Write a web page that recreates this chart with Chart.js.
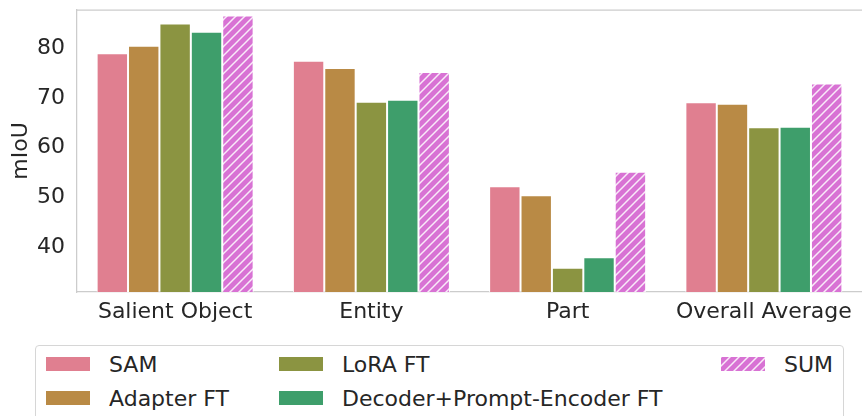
<!DOCTYPE html>
<html>
<head>
<meta charset="utf-8">
<script src="https://cdn.jsdelivr.net/npm/chart.js@4/dist/chart.umd.min.js"></script>
<style>
  html, body { margin: 0; padding: 0; background: #ffffff; }
  #wrap { position: relative; width: 862px; height: 416px; overflow: hidden; background: #fff; }
  #c { position: absolute; left: 0; top: 0; }
  #legend {
    position: absolute; left: 35px; top: 345px; width: 807px; height: 100px;
    border: 1px solid #d6d6d6; border-radius: 4px; background: #fff;
    font-family: "DejaVu Sans", sans-serif; font-size: 22px; color: #262626;
  }
  .item { position: absolute; display: flex; align-items: center; height: 30px; white-space: nowrap; }
  .sw { width: 44px; height: 14px; margin-right: 19px; background-repeat: repeat; }
</style>
</head>
<body>
<div id="wrap">
  <canvas id="c" width="862" height="416"></canvas>
  <div id="legend"></div>
</div>
<script>
// ---- data ----
const categories = ['Salient Object', 'Entity', 'Part', 'Overall Average'];
const seriesNames = ['SAM', 'Adapter FT', 'LoRA FT', 'Decoder+Prompt-Encoder FT', 'SUM'];
const samScores = [79.0, 77.5, 52.2, 69.1];
const adapterScores = [80.5, 76.0, 50.4, 68.8];
const loraScores = [85.0, 69.2, 35.8, 64.1];
const decoderScores = [83.3, 69.6, 37.9, 64.2];
const sumScores = [86.6, 75.2, 55.1, 72.9];
const yTicks = [40, 50, 60, 70, 80];
const yMin = 30.9;
const yMax = 87.7;

// ---- styles ----
const colors = ['#e07f90', '#b98a45', '#8b9441', '#3e9e6b', '#d872d4'];
const textColor = '#262626';
const fontFamily = "'DejaVu Sans', sans-serif";

function makeHatch(base, line, s) {
  const c = document.createElement('canvas');
  c.width = s; c.height = s;
  const x = c.getContext('2d');
  x.fillStyle = base; x.fillRect(0, 0, s, s);
  x.strokeStyle = line; x.lineWidth = 1.5;
  x.beginPath();
  x.moveTo(-1, s + 1); x.lineTo(s + 1, -1);
  x.moveTo(-1, 1); x.lineTo(1, -1);
  x.moveTo(s - 1, s + 1); x.lineTo(s + 1, s - 1);
  x.stroke();
  return c;
}
const hatchCanvas = makeHatch(colors[4], 'rgba(255,255,255,0.85)', 9);
const ctx = document.getElementById('c').getContext('2d');
const hatchPattern = ctx.createPattern(hatchCanvas, 'repeat');

const seriesValues = [samScores, adapterScores, loraScores, decoderScores, sumScores];
const datasets = seriesNames.map((name, i) => ({
  label: name,
  data: seriesValues[i],
  backgroundColor: i === 4 ? hatchPattern : colors[i],
  swatch: i === 4 ? 'url(' + hatchCanvas.toDataURL() + ')' : colors[i],
  borderColor: '#ffffff',
  borderWidth: 1,
  categoryPercentage: 0.8,
  barPercentage: 1.0
}));

const topLine = {
  id: 'topLine',
  afterDraw(chart) {
    const a = chart.chartArea, c = chart.ctx;
    c.save();
    c.strokeStyle = '#cccccc'; c.lineWidth = 1.25;
    c.beginPath(); c.moveTo(a.left, a.top); c.lineTo(a.right, a.top); c.stroke();
    c.restore();
  }
};

const chart = new Chart(ctx, {
  type: 'bar',
  data: { labels: categories, datasets },
  plugins: [topLine],
  options: {
    responsive: false,
    devicePixelRatio: 1,
    animation: false,
    layout: { padding: { top: 10, right: 0, left: 0, bottom: 84 } },
    plugins: { legend: { display: false }, tooltip: { enabled: false } },
    scales: {
      x: {
        grid: { display: false, drawTicks: false },
        border: { display: true, color: '#cccccc', width: 1.25 },
        ticks: { color: textColor, font: { family: fontFamily, size: 22 }, padding: 7, maxRotation: 0 },
        afterFit(axis) { axis.height = 40; axis.paddingLeft = 0; axis.paddingRight = 0; }
      },
      y: {
        min: yMin, max: yMax,
        grid: { display: false, drawTicks: false },
        border: { display: true, color: '#cccccc', width: 1.25 },
        ticks: { color: textColor, font: { family: fontFamily, size: 22 }, padding: 12 },
        afterBuildTicks(axis) { axis.ticks = yTicks.map(v => ({ value: v })); },
        title: { display: true, text: 'mIoU', color: textColor, font: { family: fontFamily, size: 22 }, padding: { top: 8, bottom: 0 } },
        afterFit(axis) { axis.width = 77; axis.paddingTop = 0; axis.paddingBottom = 0; }
      }
    }
  }
});

// ---- legend (column-major, 3 columns) ----
const legend = document.getElementById('legend');
const colLeft = [10, 243, 685];
const rowTop = [3, 37];
chart.data.datasets.forEach((ds, i) => {
  const col = Math.floor(i / 2), row = i % 2;
  const it = document.createElement('div');
  it.className = 'item';
  it.style.left = colLeft[col] + 'px';
  it.style.top = rowTop[row] + 'px';
  const sw = document.createElement('span');
  sw.className = 'sw';
  sw.style.background = ds.swatch;
  const tx = document.createElement('span');
  tx.textContent = ds.label;
  it.appendChild(sw); it.appendChild(tx);
  legend.appendChild(it);
});
</script>
</body>
</html>
